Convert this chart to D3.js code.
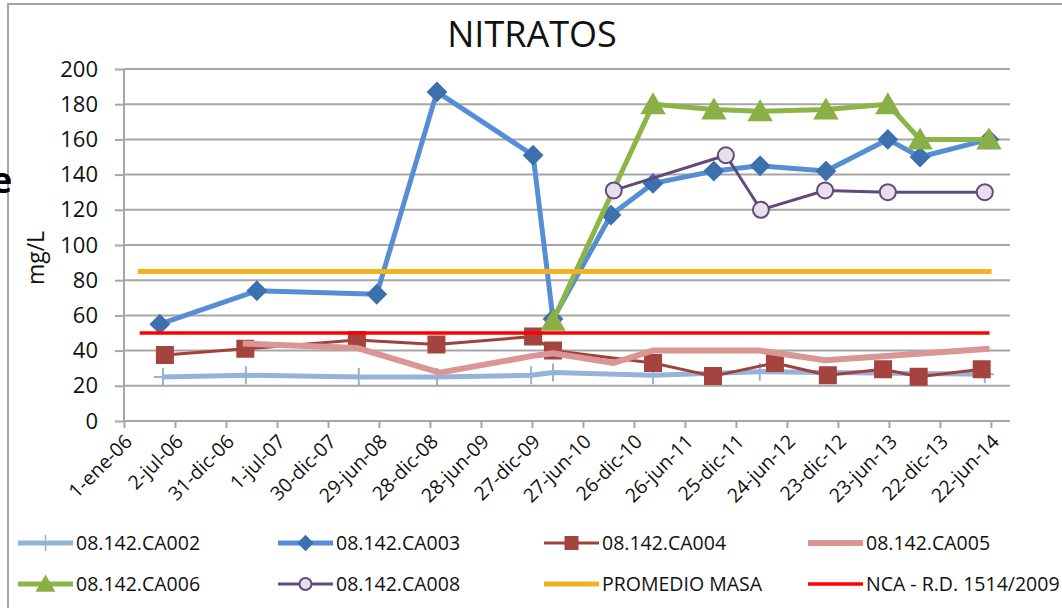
<!DOCTYPE html>
<html>
<head>
<meta charset="utf-8">
<script src="https://cdn.jsdelivr.net/npm/d3@7"></script>
<style>
  html, body { margin: 0; padding: 0; background: #fff; }
  svg { display: block; font-family: "Open Sans", sans-serif; }
</style>
</head>
<body>
<div id="graph"></div>
<script>
// ---- data ----
const tickLabels = ["1-ene-06", "2-jul-06", "31-dic-06", "1-jul-07", "30-dic-07", "29-jun-08",
                    "28-dic-08", "28-jun-09", "27-dic-09", "27-jun-10", "26-dic-10", "26-jun-11",
                    "25-dic-11", "24-jun-12", "23-dic-12", "23-jun-13", "22-dic-13", "22-jun-14"];
const yTicks = [0, 20, 40, 60, 80, 100, 120, 140, 160, 180, 200];

const ca002Dates  = ["2006-05-20", "2007-03-12", "2008-04-18", "2009-01-22", "2009-12-24", "2010-03-12", "2011-03-04", "2012-03-19", "2014-05-31"];
const ca002Values = [25, 26, 25, 25, 26, 27.5, 26, 28, 26.5];

const ca003Dates  = ["2006-05-09", "2007-04-20", "2008-06-21", "2009-01-22", "2009-12-31", "2010-03-12", "2010-10-05",
                     "2011-03-04", "2011-10-07", "2012-03-20", "2012-11-10", "2013-06-19", "2013-10-12", "2014-06-15"];
const ca003Values = [55, 74, 72, 187, 151, 58, 117, 135, 142, 145, 142, 160, 150, 160];

const ca004Dates  = ["2006-05-27", "2007-03-10", "2008-04-11", "2009-01-20", "2009-12-31", "2010-03-12", "2011-03-04",
                     "2011-10-04", "2012-05-12", "2012-11-17", "2013-06-02", "2013-10-07", "2014-05-20"];
const ca004Values = [37.5, 41, 46, 43.5, 48, 40, 33, 25.5, 33, 26, 29.4, 25.2, 29.4];

const ca005Dates  = ["2007-03-01", "2008-04-11", "2009-02-01", "2009-12-31", "2010-03-12", "2010-10-15",
                     "2011-03-03", "2012-03-20", "2012-11-08", "2014-06-17"];
const ca005Values = [44, 41.5, 27.5, 37, 38.5, 33, 40, 40, 34.5, 41];

const ca006Dates  = ["2010-03-12", "2011-03-04", "2011-10-07", "2012-03-20", "2012-11-10", "2013-06-19", "2013-10-12", "2014-06-15"];
const ca006Values = [57, 180, 177, 176, 177, 180, 160, 160];

const ca008Dates  = ["2010-10-15", "2011-11-19", "2012-03-23", "2012-11-07", "2013-06-19", "2014-05-31"];
const ca008Values = [131, 151, 120, 131, 130, 130];

const promedioDates  = ["2006-02-19", "2014-06-24"];
const promedioValues = [85, 85];

const ncaDates  = ["2006-02-26", "2014-06-17"];
const ncaValues = [50, 50];

const xAxisEnd = "2014-08-29";

// ---- layout ----
const width = 1062, height = 608;
const plot = { left: 124, right: 1010, top: 69, bottom: 421 };

const meses = ["ene", "feb", "mar", "abr", "may", "jun", "jul", "ago", "sep", "oct", "nov", "dic"];
const parseDate = d3.utcParse("%Y-%m-%d");
function parseLabel(s) {
  let [d, m, y] = s.split("-");
  return new Date(Date.UTC(2000 + +y, meses.indexOf(m), +d));
}
const tickDates = tickLabels.map(parseLabel);

const xscale = d3.scaleUtc()
                 .domain([tickDates[0], parseDate(xAxisEnd)])
                 .range([plot.left, plot.right]);

const yscale = d3.scaleLinear()
                 .domain([0, 200])
                 .range([plot.bottom, plot.top]);

// marker paths centred on 0,0
const markers = {
  plus:     s => `M0,${-s}V${s}M${-s},0H${s}`,
  diamond:  s => `M0,${-s}L${s},0L0,${s}L${-s},0Z`,
  square:   s => `M${-s},${-s}H${s}V${s}H${-s}Z`,
  triangle: s => `M0,${-s}L${s * 1.1},${s * 0.9}L${-s * 1.1},${s * 0.9}Z`,
  circle:   s => `M${s},0A${s},${s} 0 1,1 ${-s},0A${s},${s} 0 1,1 ${s},0Z`
};

const series = [
  { name: "08.142.CA002", dates: ca002Dates, values: ca002Values, color: "#95B3D7", w: 5, marker: "plus", size: 9, mfill: "none", mstroke: "#95B3D7" },
  { name: "08.142.CA003", dates: ca003Dates, values: ca003Values, color: "#558ED5", w: 5, marker: "diamond", size: 9, mfill: "#3C70AE", mstroke: "#3C70AE" },
  { name: "08.142.CA004", dates: ca004Dates, values: ca004Values, color: "#A0413C", w: 3, marker: "square", size: 8, mfill: "#A5433F", mstroke: "#A5433F" },
  { name: "08.142.CA005", dates: ca005Dates, values: ca005Values, color: "#D99694", w: 6, marker: null },
  { name: "08.142.CA006", dates: ca006Dates, values: ca006Values, color: "#8DB447", w: 5, marker: "triangle", size: 10, mfill: "#8AAF45", mstroke: "#8AAF45" },
  { name: "08.142.CA008", dates: ca008Dates, values: ca008Values, color: "#604A7B", w: 3, marker: "circle", size: 8, mfill: "#E6E0EC", mstroke: "#604A7B" },
  { name: "PROMEDIO MASA", dates: promedioDates, values: promedioValues, color: "#F1B31F", w: 5, marker: null },
  { name: "NCA - R.D. 1514/2009", dates: ncaDates, values: ncaValues, color: "#FF0000", w: 3.5, marker: null }
];

const chart = d3.select("#graph")
                .append("svg")
                  .attr("width", width)
                  .attr("height", height);

// frame of the chart object (cropped)
chart.append("path")
     .attr("d", `M8,${height}V4H${width}`)
     .attr("fill", "none")
     .attr("stroke", "#A6A6A6")
     .attr("stroke-width", 2);

// bit of a letter from outside the chart
chart.append("text")
     .attr("x", -9).attr("y", 193)
     .attr("font-size", 36).attr("font-weight", "bold")
     .text("e");

// title
chart.append("text")
     .attr("x", 532).attr("y", 47)
     .attr("text-anchor", "middle")
     .attr("font-size", 36)
     .attr("fill", "#111")
     .text("NITRATOS");

// horizontal gridlines
chart.append("g")
     .selectAll("line")
     .data(yTicks.filter(v => v > 0))
     .enter()
     .append("line")
       .attr("x1", plot.left).attr("x2", plot.right)
       .attr("y1", d => yscale(d)).attr("y2", d => yscale(d))
       .attr("stroke", "#A6A6A6")
       .attr("stroke-width", 2);

// y axis
let y_axis = d3.axisLeft(yscale)
               .tickValues(yTicks)
               .tickSize(9)
               .tickPadding(17);
let yAxisG = chart.append("g")
                  .attr("transform", `translate(${plot.left},0)`)
                  .call(y_axis);
yAxisG.selectAll("text").attr("font-size", 22).attr("fill", "#111").attr("font-family", "Open Sans");

// x axis
let x_axis = d3.axisBottom(xscale)
               .tickValues(tickDates)
               .tickSize(7)
               .tickFormat((d, i) => tickLabels[i]);
let xAxisG = chart.append("g")
                  .attr("transform", `translate(0,${plot.bottom})`)
                  .call(x_axis);
xAxisG.selectAll("text")
      .attr("font-size", 19.5)
      .attr("fill", "#111")
      .attr("font-family", "Open Sans")
      .attr("text-anchor", "end")
      .attr("transform", "translate(4,17) rotate(-45)")
      .attr("dy", "0.35em")
      .attr("y", 0).attr("x", 0);

chart.selectAll(".domain, .tick line")
     .attr("stroke", "#A6A6A6")
     .attr("stroke-width", 2);
xAxisG.select(".domain").attr("d", `M${plot.left},0H${plot.right}`);
yAxisG.select(".domain").attr("d", `M0,${plot.top}V${plot.bottom}`);

// series, drawn in legend order
const line = d3.line()
               .x(d => xscale(d.date))
               .y(d => yscale(d.value));

series.forEach(s => {
  let pts = s.dates.map((d, i) => ({ date: parseDate(d), value: s.values[i] }));
  let g = chart.append("g");
  g.append("path")
   .datum(pts)
   .attr("d", line)
   .attr("fill", "none")
   .attr("stroke", s.color)
   .attr("stroke-width", s.w)
   .attr("stroke-linejoin", "round");
  if (s.marker) {
    g.selectAll("marker")
     .data(pts)
     .enter()
     .append("path")
       .attr("transform", d => `translate(${xscale(d.date)},${yscale(d.value)})`)
       .attr("d", markers[s.marker](s.size))
       .attr("fill", s.mfill)
       .attr("stroke", s.mstroke)
       .attr("stroke-width", 2);
  }
});

// legend
const legendX = [18, 278, 544, 808];
const legendY = [543, 584];
let legend = chart.append("g");
series.forEach((s, i) => {
  let x = legendX[i % 4], y = legendY[Math.floor(i / 4)];
  let item = legend.append("g").attr("transform", `translate(${x},${y})`);
  item.append("line")
      .attr("x1", 0).attr("x2", 55)
      .attr("stroke", s.color)
      .attr("stroke-width", s.w);
  if (s.marker) {
    item.append("path")
        .attr("transform", "translate(27.5,0)")
        .attr("d", markers[s.marker](s.marker === "plus" ? 8 : s.size * 0.75))
        .attr("fill", s.mfill)
        .attr("stroke", s.mstroke)
        .attr("stroke-width", s.marker === "plus" ? 1.5 : 2);
  }
  item.append("text")
      .attr("x", 58)
      .attr("dy", "0.35em")
      .attr("font-size", 19.5)
      .attr("fill", "#111")
      .text(s.name);
});

// y axis title
chart.append("text")
     .attr("transform", "translate(44,258) rotate(-90)")
     .attr("text-anchor", "middle")
     .attr("font-size", 23)
     .attr("fill", "#111")
     .text("mg/L");
</script>
</body>
</html>
